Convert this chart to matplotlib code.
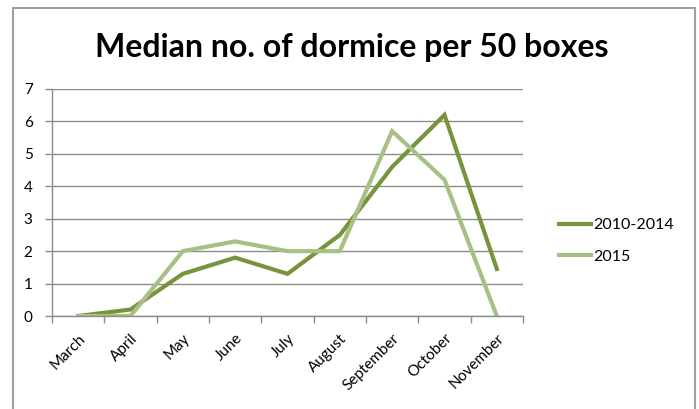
# median dormice counts per 50 boxes, 2010-2014 vs 2015
import numpy as np
import matplotlib.pyplot as plt
from matplotlib.patches import Rectangle

months = ["March", "April", "May", "June", "July", "August",
          "September", "October", "November"]
avg_2010_2014 = [0, 0.2, 1.3, 1.8, 1.3, 2.5, 4.6, 6.2, 1.45]
year_2015 = [0, 0, 2.0, 2.3, 2.0, 2.0, 5.7, 4.2, 0]
yticks = [0, 1, 2, 3, 4, 5, 6, 7]

dark_green = '#77933C'
light_green = '#A6C085'
grid_grey = '#8C8C8C'

plt.rcParams['font.family'] = ['Lato', 'DejaVu Sans']

fig = plt.figure(figsize=(6.99, 4.09), dpi=100)
W, H = 699, 409

# outer chart frame (bottom edge falls outside the image)
frame = Rectangle((13 / W, -0.05), (695 - 13) / W, 1.05 - 8 / H,
                  transform=fig.transFigure, fill=False,
                  edgecolor='#A0A0A0', linewidth=1.5)
fig.patches.append(frame)

# stray teal glyph cut off at the very top
fig.text(462 / W, 1.0 + 6 / H, 'g', color='#2A8C9C', fontsize=12,
         ha='center', va='baseline')

ax = fig.add_axes([52 / W, 1 - 316 / H, (523 - 52) / W, (316 - 89) / H])

x = np.arange(len(months))
ax.plot(x, avg_2010_2014, color=dark_green, linewidth=3.0,
        label='2010-2014', solid_joinstyle='miter')
ax.plot(x, year_2015, color=light_green, linewidth=3.0,
        label='2015', solid_joinstyle='miter')

ax.set_xlim(-0.5, len(months) - 0.5)
ax.set_ylim(0, 7)
ax.set_yticks(yticks)
ax.yaxis.grid(True, color=grid_grey, linewidth=1.0)
ax.set_axisbelow(True)

# ticks between categories, labels at centres
ax.set_xticks(np.arange(len(months) + 1) - 0.5)
ax.set_xticklabels([])
ax.set_xticks(x, minor=True)
ax.set_xticklabels(months, minor=True, rotation=45, ha='right',
                   rotation_mode='anchor', fontsize=11)
ax.tick_params(axis='x', which='minor', length=0, pad=11)
ax.tick_params(axis='x', which='major', length=5, color=grid_grey, width=1)
ax.tick_params(axis='y', length=5, color=grid_grey, width=1, labelsize=11, pad=9)

for side in ['top', 'right']:
    ax.spines[side].set_visible(False)
for side in ['left', 'bottom']:
    ax.spines[side].set_color(grid_grey)
    ax.spines[side].set_linewidth(1.0)

fig.text(352 / W, 1 - 47 / H, 'Median no. of dormice per 50 boxes',
         ha='center', va='center', fontsize=23, fontweight='bold')

ax.legend(loc='center left', bbox_to_anchor=(545 / W, 1 - 241 / H),
          bbox_transform=fig.transFigure, frameon=False, fontsize=11.5,
          handlelength=2.0, handletextpad=0.1, labelspacing=1.1)

fig.savefig('out.png', dpi=100)
